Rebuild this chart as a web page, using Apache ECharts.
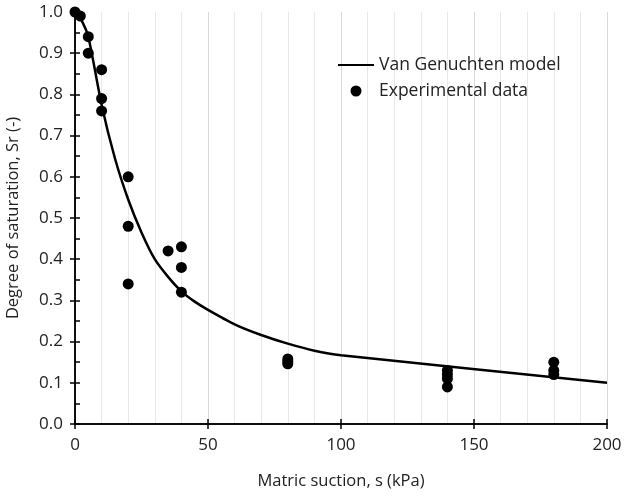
<!DOCTYPE html>
<html>
<head>
<meta charset="utf-8">
<script src="https://cdn.jsdelivr.net/npm/echarts@6/dist/echarts.min.js"></script>
<style>html,body{margin:0;padding:0;background:#fff}#c{width:625px;height:500px}</style>
</head>
<body>
<div id="c"></div>
<script>
// Van Genuchten model curve
const modelS  = [0, 2, 5, 10, 15, 20, 25, 30, 35, 40, 45, 50, 60, 70, 80, 90, 100, 200];
const modelSr = [1.0, 0.985, 0.94, 0.775, 0.645, 0.545, 0.465, 0.40, 0.357, 0.322, 0.297, 0.277, 0.242, 0.216, 0.195, 0.178, 0.167, 0.10];
// Experimental data
const expS  = [0, 2, 5, 5, 10, 10, 10, 20, 20, 20, 35, 40, 40, 40, 80, 80, 80, 140, 140, 140, 140, 180, 180, 180];
const expSr = [1.0, 0.99, 0.94, 0.90, 0.86, 0.79, 0.76, 0.60, 0.48, 0.34, 0.42, 0.43, 0.38, 0.32, 0.158, 0.152, 0.146, 0.13, 0.12, 0.11, 0.09, 0.15, 0.13, 0.12];
const xTicks = [0, 50, 100, 150, 200];
const yTicks = [0.0, 0.1, 0.2, 0.3, 0.4, 0.5, 0.6, 0.7, 0.8, 0.9, 1.0];

const FONT = 'Open Sans';
const chart = echarts.init(document.getElementById('c'));
const baseX = {type: 'value', min: xTicks[0], max: xTicks[xTicks.length-1], interval: 50};
const baseY = {type: 'value', min: yTicks[0], max: yTicks[yTicks.length-1], interval: 0.1};
chart.setOption({
  animation: false,
  textStyle: {fontFamily: FONT},
  grid: {left: 75, right: 18, top: 12, bottom: 76, containLabel: false, outerBoundsMode: 'none'},
  legend: {
    orient: 'vertical', left: 332, top: 51, itemGap: 8,
    itemWidth: 36, itemHeight: 11,
    textStyle: {fontFamily: FONT, fontSize: 17.5, color: '#222', padding: [0, 0, 0, 0]},
    data: [
      {name: 'Van Genuchten model', itemStyle: {opacity: 0}},
      {name: 'Experimental data'}
    ]
  },
  xAxis: [
    Object.assign({}, baseX, {
      position: 'bottom',
      name: 'Matric suction, s (kPa)', nameLocation: 'middle', nameGap: 49,
      nameTextStyle: {fontFamily: FONT, fontSize: 16.5, color: '#222'},
      axisLine: {lineStyle: {color: '#000', width: 1.5}},
      axisTick: {show: true, inside: false, length: 5, lineStyle: {color: '#000', width: 1.5}},
      axisLabel: {fontFamily: FONT, fontSize: 17, color: '#222', margin: 13},
      splitLine: {show: true, lineStyle: {color: '#d9d9d9', width: 1}},
      minorTick: {show: false, splitNumber: 5},
      minorSplitLine: {show: true, lineStyle: {color: '#e8e8e8', width: 1}}
    }),
    Object.assign({}, baseX, {
      position: 'bottom', offset: 0,
      axisLine: {show: false},
      axisTick: {show: true, inside: true, length: 5, lineStyle: {color: '#000', width: 1.5}},
      axisLabel: {show: false}, splitLine: {show: false}
    }),
    Object.assign({}, baseX, {
      position: 'top',
      axisLine: {show: true, lineStyle: {color: '#000', width: 1.5}},
      axisTick: {show: false}, axisLabel: {show: false}, splitLine: {show: false}
    })
  ],
  yAxis: [
    Object.assign({}, baseY, {
      position: 'left',
      name: 'Degree of saturation, Sr (-)', nameLocation: 'middle', nameGap: 53,
      nameTextStyle: {fontFamily: FONT, fontSize: 16.5, color: '#222'},
      axisLine: {show: true, lineStyle: {color: '#000', width: 1.5}},
      axisTick: {show: true, inside: false, length: 5, lineStyle: {color: '#000', width: 1.5}},
      axisLabel: {fontFamily: FONT, fontSize: 17, color: '#222', margin: 12,
                  formatter: v => v.toFixed(1)},
      splitLine: {show: false}
    }),
    Object.assign({}, baseY, {
      position: 'left', offset: 0,
      axisLine: {show: false},
      axisTick: {show: true, inside: true, length: 5, lineStyle: {color: '#000', width: 1.5}},
      minorTick: {show: true, splitNumber: 2, length: 5, lineStyle: {color: '#000', width: 1.5}},
      axisLabel: {show: false}, splitLine: {show: false}
    }),
    Object.assign({}, baseY, {
      position: 'right',
      axisLine: {show: true, lineStyle: {color: '#000', width: 1.5}},
      axisTick: {show: false}, axisLabel: {show: false}, splitLine: {show: false}
    })
  ],
  series: [
    {
      name: 'Van Genuchten model', type: 'line', xAxisIndex: 0, yAxisIndex: 0,
      data: modelS.map((s, i) => [s, modelSr[i]]),
      symbol: 'none', smooth: 0.2, z: 3,
      lineStyle: {color: '#000', width: 2.5}, itemStyle: {color: '#000'}
    },
    {
      name: 'Experimental data', type: 'scatter', xAxisIndex: 0, yAxisIndex: 0,
      data: expS.map((s, i) => [s, expSr[i]]),
      symbol: 'circle', symbolSize: 11, z: 4,
      itemStyle: {color: '#000', opacity: 1}
    }
  ]
});
</script>
</body>
</html>
